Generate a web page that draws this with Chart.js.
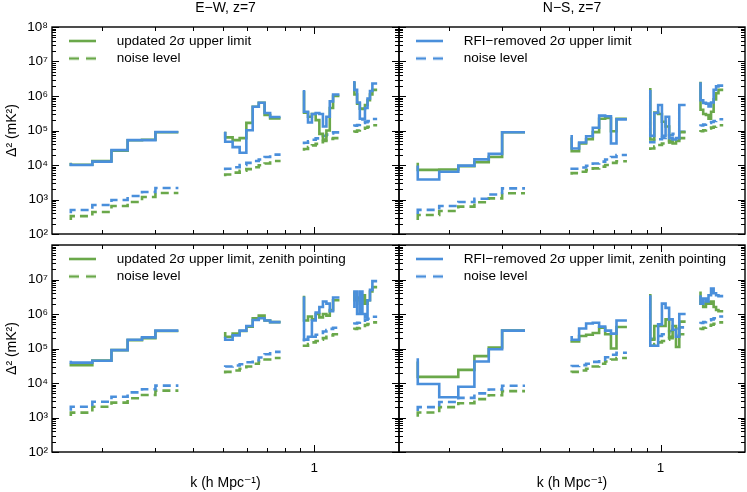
<!DOCTYPE html>
<html><head><meta charset="utf-8">
<script src="https://cdn.jsdelivr.net/npm/chart.js@4.4.0/dist/chart.umd.min.js"></script>
<style>
html,body{margin:0;padding:0;background:#fff;}
#wrap{position:relative;width:747px;height:492px;background:#fff;}
canvas{position:absolute;left:0;top:0;}
</style></head><body>
<div id="wrap">
<canvas id="c0" width="747" height="492"></canvas>
<canvas id="c1" width="747" height="492"></canvas>
<canvas id="c2" width="747" height="492"></canvas>
<canvas id="c3" width="747" height="492"></canvas>
</div>
<script>
// ---- k bin edges (h/Mpc), four groups of bins ----
const kEdgesG1 = [0.158, 0.186, 0.215, 0.243, 0.271, 0.300, 0.328, 0.357];
const kEdgesG2 = [0.509, 0.5385, 0.568, 0.5975, 0.627, 0.6565, 0.686, 0.7155, 0.745, 0.7745];
const kEdgesG3 = [0.925, 0.9535, 0.982, 1.0105, 1.039, 1.0675, 1.096, 1.1245, 1.153, 1.1815, 1.21];
const kEdgesG4 = [1.355, 1.383, 1.412, 1.44, 1.468, 1.497, 1.525, 1.553, 1.582, 1.61];

// ---- E-W, z=7 (mK^2), one value per bin ----
const ewUpdated = [11700, 10200, 13000, 26000, 52000, 54000, 89000,
  92000, 63000, 52500, 60000, 166000, 490000, 640000, 280000, 225000,
  1.4e6, 3.3e5, 2.5e5, 3.0e5, 2.0e5, 8.0e4, 5.5e4, 1.0e5, 4.5e5, 1.0e6,
  2.6e6, 1.1e6, 6.0e5, 4.3e5, 4.2e5, 5.5e5, 7.5e5, 1.1e6, 1.5e6];
const ewRfiRemoved = [11400, 10000, 12500, 27000, 52700, 52700, 90600,
  92000, 47300, 33000, 22700, 102000, 490000, 640000, 321000, 245000,
  1.5e6, 3.5e5, 1.7e5, 3.0e5, 3.2e5, 3.0e5, 1.3e5, 2.5e5, 7.0e5, 1.1e6,
  2.7e6, 1.5e6, 6.5e5, 2.2e5, 2.1e5, 4.5e5, 8.5e5, 1.4e6, 2.3e6];
const ewNoiseUpdated = [255, 330, 435, 650, 850, 1180, 1550,
  4700, 5300, 6000, 6800, 7600, 8600, 9800, 11000, 13000,
  26000, 29000, 33000, 37000, 41000, 46000, 50000, 54000, 57000, 60000,
  88000, 93000, 100000, 106000, 112000, 120000, 127000, 135000, 142000];
const ewNoiseRfi = [400, 495, 690, 970, 1260, 1650, 2150,
  7000, 7800, 8600, 10000, 11500, 13000, 14500, 17000, 20000,
  40000, 44000, 49000, 54000, 59000, 64000, 70000, 76000, 82000, 88000,
  130000, 138000, 145000, 155000, 165000, 175000, 187000, 200000, 215000];

// ---- N-S, z=7 ----
const nsUpdated = [11700, 7200, 7400, 9300, 12000, 17000, 89000,
  63000, 25000, 42000, 56000, 90000, 220000, 230000, 95000, 220000,
  1.7e6, 5.5e4, 3.3e5, 3.0e5, 1.8e5, 1.3e5, 4.5e4, 4.2e4, 5.0e4, 9.0e4,
  2.6e6, 4.0e5, 3.0e5, 2.8e5, 2.2e5, 3.5e5, 8.0e5, 1.2e6, 1.5e6];
const nsRfiRemoved = [9600, 3800, 6400, 9600, 14600, 21000, 89000,
  74000, 30000, 45000, 68000, 120000, 270000, 260000, 42000, 210000,
  1.5e6, 7.0e4, 3.2e5, 5.5e5, 7.0e4, 2.5e5, 6.0e4, 5.5e4, 6.0e4, 5.5e5,
  2.5e6, 7.5e5, 6.3e5, 6.0e5, 5.0e5, 6.5e5, 1.5e6, 1.9e6, 2.0e6];
const nsNoiseUpdated = [255, 355, 465, 620, 830, 1080, 1520,
  5200, 5800, 6400, 7100, 8000, 9000, 10000, 11500, 12800,
  27000, 30000, 34000, 38000, 42000, 46000, 50000, 54000, 57000, 60000,
  90000, 95000, 101000, 107000, 114000, 121000, 128000, 135000, 142000];
const nsNoiseRfi = [380, 500, 650, 850, 1050, 1400, 2100,
  7200, 7800, 8500, 9500, 11000, 12500, 14500, 17000, 19500,
  42000, 46000, 51000, 56000, 61000, 67000, 73000, 80000, 86000, 92000,
  132000, 140000, 148000, 157000, 166000, 176000, 188000, 200000, 212000];

// ---- E-W, zenith pointing ----
const ewZenUpdated = [37000, 33000, 45000, 90000, 175000, 200000, 320000,
  3.0e5, 2.2e5, 2.7e5, 3.2e5, 4.3e5, 7.5e5, 9.0e5, 6.5e5, 5.8e5,
  3.4e6, 6.5e5, 8.5e5, 7.0e5, 1.0e6, 8.0e5, 1.0e6, 9.0e5, 1.3e6, 2.5e6,
  4.5e6, 2.5e6, 3.0e6, 2.0e6, 3.5e6, 2.0e6, 2.5e6, 4.5e6, 6.0e6];
const ewZenRfiRemoved = [44000, 39000, 44000, 90000, 180000, 210000, 330000,
  2.2e5, 1.8e5, 2.4e5, 3.3e5, 4.5e5, 6.7e5, 7.5e5, 6.5e5, 5.8e5,
  3.2e6, 1.8e5, 2.2e5, 6.5e5, 1.1e6, 1.6e6, 2.3e6, 2.0e6, 1.2e6, 3.0e6,
  1.5e6, 4.5e6, 1.0e6, 4.5e6, 1.0e6, 8.0e5, 2.5e6, 5.0e6, 9.0e6];
const ewZenNoiseUpdated = [1100, 1380, 2050, 2700, 3600, 4500, 6000,
  1.9e4, 2.1e4, 2.3e4, 2.6e4, 3.0e4, 3.6e4, 4.2e4, 4.8e4, 5.3e4,
  1.1e5, 1.2e5, 1.35e5, 1.5e5, 1.65e5, 1.8e5, 2.0e5, 2.2e5, 2.4e5, 2.6e5,
  3.5e5, 3.7e5, 3.9e5, 4.2e5, 4.5e5, 4.8e5, 5.1e5, 5.4e5, 5.7e5];
const ewZenNoiseRfi = [1580, 2050, 2850, 4000, 5350, 6600, 8400,
  2.9e4, 3.0e4, 3.2e4, 3.5e4, 4.0e4, 4.6e4, 5.5e4, 6.8e4, 8.0e4,
  1.6e5, 1.8e5, 2.0e5, 2.2e5, 2.5e5, 2.8e5, 3.1e5, 3.4e5, 3.7e5, 4.0e5,
  5.0e5, 5.3e5, 5.6e5, 6.0e5, 6.4e5, 6.8e5, 7.3e5, 7.8e5, 8.3e5];

// ---- N-S, zenith pointing ----
const nsZenUpdated = [42000, 15000, 15000, 24000, 60000, 107000, 330000,
  1.7e5, 1.6e5, 2.3e5, 2.5e5, 2.8e5, 4.0e5, 2.6e5, 1.0e5, 4.2e5,
  3.8e6, 1.8e5, 4.5e5, 4.5e5, 4.5e5, 7.0e5, 2.2e5, 4.5e5, 1.1e5, 6.0e5,
  4.5e6, 2.0e6, 1.6e6, 2.2e6, 2.0e6, 2.3e6, 1.6e6, 1.3e6, 1.2e6];
const nsZenRfiRemoved = [52000, 9400, 3850, 7800, 42000, 95000, 330000,
  2.3e5, 1.8e5, 3.8e5, 5.3e5, 5.6e5, 4.3e5, 3.3e5, 2.7e5, 6.5e5,
  3.5e6, 1.2e5, 1.2e5, 5.0e5, 2.0e6, 1.5e6, 7.0e5, 3.5e5, 2.2e5, 1.0e6,
  3.5e6, 2.0e6, 2.8e6, 2.3e6, 3.5e6, 5.5e6, 4.0e6, 3.5e6, 3.3e6];
const nsZenNoiseUpdated = [1050, 1400, 2000, 2600, 3400, 4400, 5800,
  2.0e4, 2.1e4, 2.3e4, 2.6e4, 3.0e4, 3.6e4, 4.2e4, 4.8e4, 5.3e4,
  1.1e5, 1.2e5, 1.35e5, 1.5e5, 1.65e5, 1.8e5, 2.0e5, 2.2e5, 2.4e5, 2.6e5,
  3.5e5, 3.7e5, 4.0e5, 4.3e5, 4.6e5, 4.9e5, 5.2e5, 5.5e5, 5.7e5];
const nsZenNoiseRfi = [1550, 2000, 2800, 3700, 5000, 6500, 8300,
  3.0e4, 3.1e4, 3.3e4, 3.6e4, 4.1e4, 4.7e4, 5.6e4, 6.6e4, 7.5e4,
  1.7e5, 1.9e5, 2.1e5, 2.3e5, 2.6e5, 2.9e5, 3.2e5, 3.5e5, 3.8e5, 4.1e5,
  5.2e5, 5.5e5, 5.8e5, 6.2e5, 6.6e5, 7.0e5, 7.5e5, 8.0e5, 8.5e5];

// ---- axis ticks ----
const yMajorTicks = [1e2, 1e3, 1e4, 1e5, 1e6, 1e7, 1e8];
const xMajorTicks = [1];
const xMinorTicks = [0.2, 0.3, 0.4, 0.5, 0.6, 0.7, 0.8, 0.9];
const xTickLabels = ['1'];

const BLUE = '#4a8fdb';
const GREEN = '#6aa84a';
const FONT = '"Liberation Sans", Arial, "DejaVu Sans", sans-serif';
const W = 747, H = 492;

Chart.defaults.font.family = FONT;
Chart.defaults.color = '#000';

const kGroups = [kEdgesG1, kEdgesG2, kEdgesG3, kEdgesG4];
function stepPoints(values) {
  const pts = []; let i = 0;
  kGroups.forEach((edges, g) => {
    const n = edges.length - 1;
    for (let j = 0; j < n; j++) pts.push({x: edges[j], y: values[i + j]});
    pts.push({x: edges[n], y: values[i + n - 1]});
    if (g < kGroups.length - 1) pts.push({x: (edges[n] + kGroups[g + 1][0]) / 2, y: null});
    i += n;
  });
  return pts;
}

function swatch(color, dashed) {
  const c = document.createElement('canvas');
  c.width = 54; c.height = 6;
  const g = c.getContext('2d');
  g.strokeStyle = color; g.lineWidth = 2.6;
  if (dashed) g.setLineDash([10, 7]);
  g.beginPath(); g.moveTo(13, 3); g.lineTo(40, 3); g.stroke();
  return c;
}

const yMinorTicks = [];
yMajorTicks.slice(0, -1).forEach(d => { for (let m = 2; m <= 9; m++) yMinorTicks.push(d * m); });

const frameTicks = {
  id: 'frameTicks',
  afterLayout(chart) {
    // keep the in-plot legend inside the plot area
    const lg = chart.legend, a = chart.chartArea;
    if (lg) { lg.top = a.top; lg.bottom = a.bottom; lg.height = a.bottom - a.top; }
  },
  afterDatasetsDraw(chart) {
    const {ctx, chartArea: a, scales: {x, y}} = chart;
    ctx.save();
    ctx.strokeStyle = '#000';
    ctx.lineWidth = 1;
    ctx.beginPath();
    const ytick = (v, len) => {
      const py = Math.round(y.getPixelForValue(v)) + 0.5;
      if (py < a.top - 0.5 || py > a.bottom + 0.5) return;
      ctx.moveTo(a.left, py); ctx.lineTo(a.left + len, py);
      ctx.moveTo(a.right, py); ctx.lineTo(a.right - len, py);
    };
    const xtick = (v, len) => {
      const px = Math.round(x.getPixelForValue(v)) + 0.5;
      if (px < a.left || px > a.right) return;
      ctx.moveTo(px, a.bottom); ctx.lineTo(px, a.bottom - len);
      ctx.moveTo(px, a.top); ctx.lineTo(px, a.top + len);
    };
    yMajorTicks.forEach(v => ytick(v, 7));
    yMinorTicks.forEach(v => ytick(v, 4));
    xMajorTicks.forEach(v => xtick(v, 7));
    xMinorTicks.forEach(v => xtick(v, 4));
    ctx.stroke();
    ctx.lineWidth = 1.4;
    ctx.strokeRect(a.left, a.top, a.right - a.left, a.bottom - a.top);
    ctx.restore();
  }
};

const SUP = {2: '²', 3: '³', 4: '⁴', 5: '⁵', 6: '⁶', 7: '⁷', 8: '⁸'};

const panels = [
  {id: 'c0', title: 'E−W, z=7', box: [52, 27, 399, 234], left: true, bottom: false,
   legendColor: GREEN, legendText: 'updated 2σ upper limit',
   blue: ewRfiRemoved, green: ewUpdated, blueN: ewNoiseRfi, greenN: ewNoiseUpdated},
  {id: 'c1', title: 'N−S, z=7', box: [399, 27, 745, 234], left: false, bottom: false,
   legendColor: BLUE, legendText: 'RFI−removed 2σ upper limit',
   blue: nsRfiRemoved, green: nsUpdated, blueN: nsNoiseRfi, greenN: nsNoiseUpdated},
  {id: 'c2', title: null, box: [52, 245, 399, 452], left: true, bottom: true,
   legendColor: GREEN, legendText: 'updated 2σ upper limit, zenith pointing',
   blue: ewZenRfiRemoved, green: ewZenUpdated, blueN: ewZenNoiseRfi, greenN: ewZenNoiseUpdated},
  {id: 'c3', title: null, box: [399, 245, 745, 452], left: false, bottom: true,
   legendColor: BLUE, legendText: 'RFI−removed 2σ upper limit, zenith pointing',
   blue: nsZenRfiRemoved, green: nsZenUpdated, blueN: nsZenNoiseRfi, greenN: nsZenNoiseUpdated}
];

panels.forEach(p => {
  const [L, T, R, B] = p.box;
  const yW = p.left ? 48 : 0;
  const xH = p.bottom ? (H - B) : 0;
  const solidImg = swatch(p.legendColor, false);
  const dashImg = swatch(p.legendColor, true);
  const line = (data, color, dashed) => ({
    data: stepPoints(data), borderColor: color, backgroundColor: color,
    borderWidth: 2.6, borderDash: dashed ? [8, 5] : [],
    stepped: 'after', pointRadius: 0, fill: false, spanGaps: false
  });
  new Chart(document.getElementById(p.id), {
    type: 'line',
    data: {
      datasets: [
        line(p.blue, BLUE, false),
        line(p.green, GREEN, false),
        line(p.blueN, BLUE, true),
        line(p.greenN, GREEN, true)
      ]
    },
    options: {
      responsive: false, animation: false, devicePixelRatio: 1,
      events: [],
      layout: {padding: {left: L - yW, top: p.title ? 0 : T, right: W - R, bottom: H - B - xH}},
      scales: {
        x: {
          type: 'logarithmic', min: 0.137, max: 1.9, display: p.bottom,
          afterFit: s => { s.height = xH; },
          afterBuildTicks: s => { s.ticks = xMajorTicks.map(v => ({value: v, major: true})); },
          grid: {display: false, drawTicks: false},
          border: {display: false},
          ticks: {display: true, padding: 8, font: {size: 13.5}, color: '#000',
                  maxRotation: 0, callback: (v, i) => xTickLabels[i]},
          title: {display: true, text: 'k (h Mpc⁻¹)', font: {size: 14, lineHeight: '16px'},
                  padding: {top: 0, bottom: 1}, color: '#000'}
        },
        y: {
          type: 'logarithmic', min: 1e2, max: 1e8, display: p.left,
          afterFit: s => { s.width = yW; },
          afterBuildTicks: s => { s.ticks = yMajorTicks.map(v => ({value: v, major: true})); },
          grid: {display: false, drawTicks: false},
          border: {display: false},
          ticks: {display: true, padding: 4, font: {size: 13.5}, color: '#000',
                  callback: (v) => {
                    const e = Math.round(Math.log10(v));
                    if (p.bottom && e === 8) return '';
                    return '10' + SUP[e];
                  }},
          title: {display: true, text: 'Δ² (mK²)', font: {size: 14, lineHeight: '16px'},
                  padding: {top: 0, bottom: 0}, color: '#000'}
        }
      },
      plugins: {
        title: p.title ? {display: true, text: p.title, fullSize: false, color: '#000',
                 font: {size: 14, weight: 'normal', lineHeight: '16px'}, padding: {top: 0, bottom: 11}} : {display: false},
        tooltip: {enabled: false},
        legend: {
          display: true, position: 'chartArea', align: 'start',
          title: {display: true, text: '', font: {size: 1, lineHeight: '3.25px'}, padding: 0},
          labels: {
            usePointStyle: true, pointStyleWidth: 54, boxHeight: 13.5, padding: 4,
            font: {size: 13.5}, color: '#000',
            generateLabels: () => [
              {text: p.legendText, pointStyle: solidImg, fillStyle: p.legendColor, strokeStyle: p.legendColor, lineWidth: 0, hidden: false, datasetIndex: 0},
              {text: 'noise level', pointStyle: dashImg, fillStyle: p.legendColor, strokeStyle: p.legendColor, lineWidth: 0, hidden: false, datasetIndex: 2}
            ]
          }
        }
      }
    },
    plugins: [frameTicks]
  });
});
</script>
</body></html>
